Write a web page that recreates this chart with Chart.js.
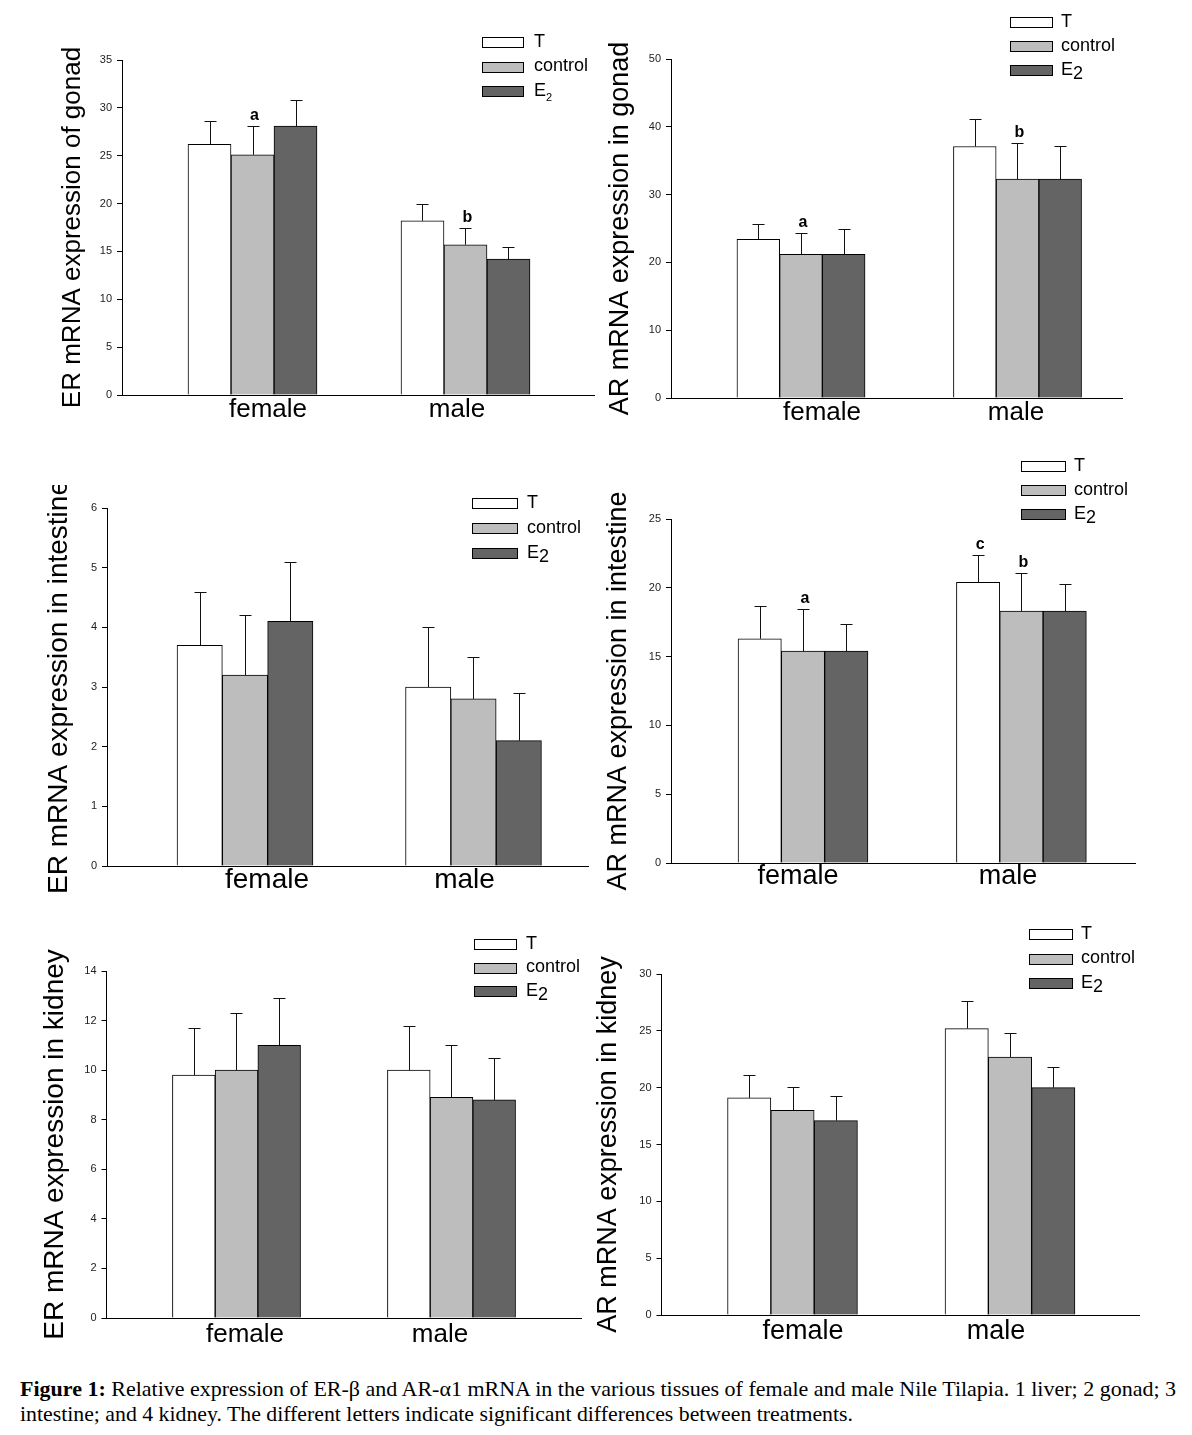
<!DOCTYPE html>
<html>
<head>
<meta charset="utf-8">
<script src="https://cdn.jsdelivr.net/npm/chart.js@4.4.1/dist/chart.umd.min.js"></script>
<style>
  body { margin: 0; background: #fff; width: 1192px; height: 1435px; position: relative; overflow: hidden; }
  canvas { position: absolute; }
  .cap { position: absolute; left: 20px; font-family: "Liberation Serif", "Times New Roman", serif; font-size: 22px; line-height: 22px; white-space: nowrap; transform-origin: 0 0; color: #000; }
</style>
</head>
<body>
<canvas id="c1"></canvas>
<canvas id="c2"></canvas>
<canvas id="c3"></canvas>
<canvas id="c4"></canvas>
<canvas id="c5"></canvas>
<canvas id="c6"></canvas>
<div class="cap" id="cap1" style="top:1378px"><b>Figure 1:</b> Relative expression of ER-β and AR-α1 mRNA in the various tissues of female and male Nile Tilapia. 1 liver; 2 gonad; 3</div>
<div class="cap" id="cap2" style="top:1403px">intestine; and 4 kidney. The different letters indicate significant differences between treatments.</div>
<script>
'use strict';

const categories = ['female', 'male'];
const seriesNames = ['T', 'control', 'E2'];
const seriesColors = ['#ffffff', '#bdbdbd', '#646464'];

// rows = T, control, E2 ; columns = female, male
const erGonadMean = [[26.2, 18.2], [25.1, 15.7], [28.1, 14.2]];
const erGonadErr = [[2.4, 1.8], [3.0, 1.8], [2.7, 1.3]];
const erGonadLetters = [['', ''], ['a', 'b'], ['', '']];

const arGonadMean = [[23.4, 37.1], [21.2, 32.3], [21.2, 32.3]];
const arGonadErr = [[2.3, 4.0], [3.1, 5.3], [3.8, 4.9]];
const arGonadLetters = [['', ''], ['a', 'b'], ['', '']];

const erIntestineMean = [[3.7, 3.0], [3.2, 2.8], [4.1, 2.1]];
const erIntestineErr = [[0.9, 1.0], [1.0, 0.7], [1.0, 0.8]];
const erIntestineLetters = [['', ''], ['', ''], ['', '']];

const arIntestineMean = [[16.3, 20.4], [15.4, 18.3], [15.4, 18.3]];
const arIntestineErr = [[2.35, 2.0], [3.05, 2.8], [1.95, 2.0]];
const arIntestineLetters = [['', 'c'], ['a', 'b'], ['', '']];

const erKidneyMean = [[9.8, 10.0], [10.0, 8.9], [11.0, 8.8]];
const erKidneyErr = [[1.9, 1.8], [2.3, 2.1], [1.9, 1.7]];
const erKidneyLetters = [['', ''], ['', ''], ['', '']];

const arKidneyMean = [[19.1, 25.2], [18.0, 22.7], [17.1, 20.0]];
const arKidneyErr = [[2.0, 2.45], [2.1, 2.1], [2.2, 1.85]];
const arKidneyLetters = [['', ''], ['', ''], ['', '']];

const FONT = '"Liberation Sans", Arial, sans-serif';

// layout of each panel, page pixels
const panels = [
  { id: 'c1', title: 'ER mRNA expression of gonad', means: erGonadMean, errs: erGonadErr, letters: erGonadLetters,
    yMax: 35, yStep: 5, box: [0, 0, 600, 440], axis: { left: 122, right: 594, top: 60, bottom: 395 },
    groups: [252.5, 465.5], barW: 43, labelsX: [268, 457], titleSize: 26, titleX: 73, labelSize: 26, labelPad: 2,
    legend: { x: 482, w: 41, y: 42, gap: 24.5, textX: 534, smallSub: true } },
  { id: 'c2', title: 'AR mRNA expression in gonad', means: arGonadMean, errs: arGonadErr, letters: arGonadLetters,
    yMax: 50, yStep: 10, box: [592, 0, 600, 440], axis: { left: 671, right: 1122, top: 59, bottom: 398 },
    groups: [801, 1017.5], barW: 42.7, labelsX: [822, 1016], titleSize: 27, titleX: 621, labelSize: 26, labelPad: 2,
    legend: { x: 1010, w: 42, y: 22, gap: 24, textX: 1061 } },
  { id: 'c3', title: 'ER mRNA expression in intestine', means: erIntestineMean, errs: erIntestineErr, letters: erIntestineLetters,
    yMax: 6, yStep: 1, box: [0, 485, 600, 420], axis: { left: 107, right: 588, top: 508, bottom: 866 },
    groups: [245, 473.5], barW: 45.3, labelsX: [267, 464.5], titleSize: 28, titleX: 59, labelSize: 28, labelPad: 0,
    legend: { x: 472, w: 45, y: 503, gap: 25, textX: 527 } },
  { id: 'c4', title: 'AR mRNA expression in intestine', means: arIntestineMean, errs: arIntestineErr, letters: arIntestineLetters,
    yMax: 25, yStep: 5, box: [592, 450, 600, 455], axis: { left: 671, right: 1135, top: 519, bottom: 863 },
    groups: [803, 1021.4], barW: 43.3, labelsX: [798, 1008], titleSize: 27, titleX: 619, labelSize: 27, labelPad: 0.5,
    legend: { x: 1021, w: 44, y: 466, gap: 24, textX: 1074 } },
  { id: 'c5', title: 'ER mRNA expression in kidney', means: erKidneyMean, errs: erKidneyErr, letters: erKidneyLetters,
    yMax: 14, yStep: 2, box: [0, 915, 600, 440], axis: { left: 106.5, right: 581, top: 971, bottom: 1318 },
    groups: [236.5, 451.5], barW: 42.7, labelsX: [245, 440], titleSize: 28, titleX: 55, labelSize: 26, labelPad: 4,
    legend: { x: 474, w: 42, y: 944, gap: 23.5, textX: 526 } },
  { id: 'c6', title: 'AR mRNA expression in kidney', means: arKidneyMean, errs: arKidneyErr, letters: arKidneyLetters,
    yMax: 30, yStep: 5, box: [592, 915, 600, 440], axis: { left: 661.5, right: 1139, top: 974, bottom: 1315 },
    groups: [792.5, 1010], barW: 43.3, labelsX: [803, 996], titleSize: 27, titleX: 609, labelSize: 27, labelPad: 3.5,
    legend: { x: 1029, w: 43, y: 934, gap: 24.5, textX: 1081 } }
];

// error bars, significance letters and the legend
function makeExtras(p) {
  const ox = p.box[0], oy = p.box[1];
  return {
    id: 'extras_' + p.id,
    afterDatasetsDraw(chart) {
      const ctx = chart.ctx;
      const y = chart.scales.y;
      ctx.save();
      ctx.lineWidth = 1;
      ctx.strokeStyle = '#111';
      chart.data.datasets.forEach((ds, j) => {
        chart.getDatasetMeta(j).data.forEach((bar, i) => {
          const top = y.getPixelForValue(p.means[j][i] + p.errs[j][i]);
          const bx = Math.round(bar.x) + 0.5;
          const ty = Math.round(top) + 0.5;
          ctx.beginPath();
          ctx.moveTo(bx, bar.y);
          ctx.lineTo(bx, ty);
          ctx.moveTo(bx - 6, ty);
          ctx.lineTo(bx + 6, ty);
          ctx.stroke();
          const letter = p.letters[j][i];
          if (letter) {
            ctx.fillStyle = '#000';
            ctx.font = 'bold 16px ' + FONT;
            ctx.textAlign = 'center';
            ctx.textBaseline = 'alphabetic';
            ctx.fillText(letter, bar.x + 2, top - 6);
          }
        });
      });

      const lg = p.legend;
      chart.data.datasets.forEach((ds, j) => {
        const cy = lg.y + j * lg.gap - oy;
        const bx = Math.round(lg.x - ox) + 0.5;
        const by = Math.round(cy - 5) + 0.5;
        ctx.fillStyle = ds.backgroundColor;
        ctx.fillRect(bx, by, lg.w, 10);
        ctx.strokeStyle = '#000';
        ctx.strokeRect(bx, by, lg.w, 10);
        ctx.fillStyle = '#000';
        ctx.textAlign = 'left';
        ctx.textBaseline = 'middle';
        ctx.font = '18px ' + FONT;
        const tx = lg.textX - ox;
        if (ds.label === 'E2') {
          ctx.fillText('E', tx, cy);
          const w = ctx.measureText('E').width;
          if (lg.smallSub) {
            ctx.font = '11px ' + FONT;
            ctx.fillText('2', tx + w, cy + 7);
          } else {
            ctx.fillText('2', tx + w, cy + 4);
          }
        } else {
          ctx.fillText(ds.label, tx, cy);
        }
      });
      ctx.restore();
    }
  };
}

function makePanel(p) {
  const cv = document.getElementById(p.id);
  const [ox, oy, cw, ch] = p.box;
  cv.width = cw;
  cv.height = ch;
  cv.style.left = ox + 'px';
  cv.style.top = oy + 'px';

  const unit = p.groups[1] - p.groups[0];
  const xMin = 1 - (p.groups[0] - p.axis.left) / unit;
  const xMax = xMin + (p.axis.right - p.axis.left) / unit;

  new Chart(cv, {
    type: 'bar',
    data: {
      datasets: seriesNames.map((name, j) => ({
        label: name,
        data: p.means[j].map((v, i) => ({ x: i + 1, y: v })),
        backgroundColor: seriesColors[j],
        borderColor: '#000',
        borderWidth: 1,
        barThickness: p.barW
      }))
    },
    options: {
      responsive: false,
      animation: false,
      events: [],
      layout: { padding: { left: 0, top: p.axis.top - oy, right: ox + cw - p.axis.right, bottom: 0 } },
      plugins: { legend: { display: false }, tooltip: { enabled: false } },
      scales: {
        x: {
          type: 'linear',
          min: xMin,
          max: xMax,
          offset: false,
          grid: { display: false, drawTicks: false },
          border: { color: '#000', width: 1 },
          // the figure sets its group names a little off the group centres
          afterBuildTicks: s => { s.ticks = p.labelsX.map(px => ({ value: 1 + (px - p.groups[0]) / unit })); },
          ticks: {
            callback: (v, i) => categories[i],
            autoSkip: false,
            maxRotation: 0,
            color: '#000',
            padding: p.labelPad,
            font: { family: FONT, size: p.labelSize, lineHeight: 1 }
          },
          afterFit: s => { s.height = oy + ch - p.axis.bottom; }
        },
        y: {
          min: 0,
          max: p.yMax,
          ticks: { stepSize: p.yStep, color: '#222', padding: 5, font: { family: FONT, size: 11 } },
          grid: { drawOnChartArea: false, drawTicks: true, tickLength: 5, color: '#000' },
          border: { color: '#000', width: 1 },
          title: {
            display: true,
            text: p.title,
            color: '#000',
            font: { family: FONT, size: p.titleSize, lineHeight: 1 },
            padding: { top: p.titleX - ox - p.titleSize / 2, bottom: 0 }
          },
          afterFit: s => { s.width = p.axis.left - ox; }
        }
      }
    },
    plugins: [makeExtras(p)]
  });
}

panels.forEach(makePanel);

// squeeze caption lines to the width they take in the figure
function fitLine(id, width) {
  const el = document.getElementById(id);
  const w = el.getBoundingClientRect().width;
  el.style.transform = 'scaleX(' + (width / w) + ')';
}
fitLine('cap1', 1156);
fitLine('cap2', 833);
</script>
</body>
</html>
